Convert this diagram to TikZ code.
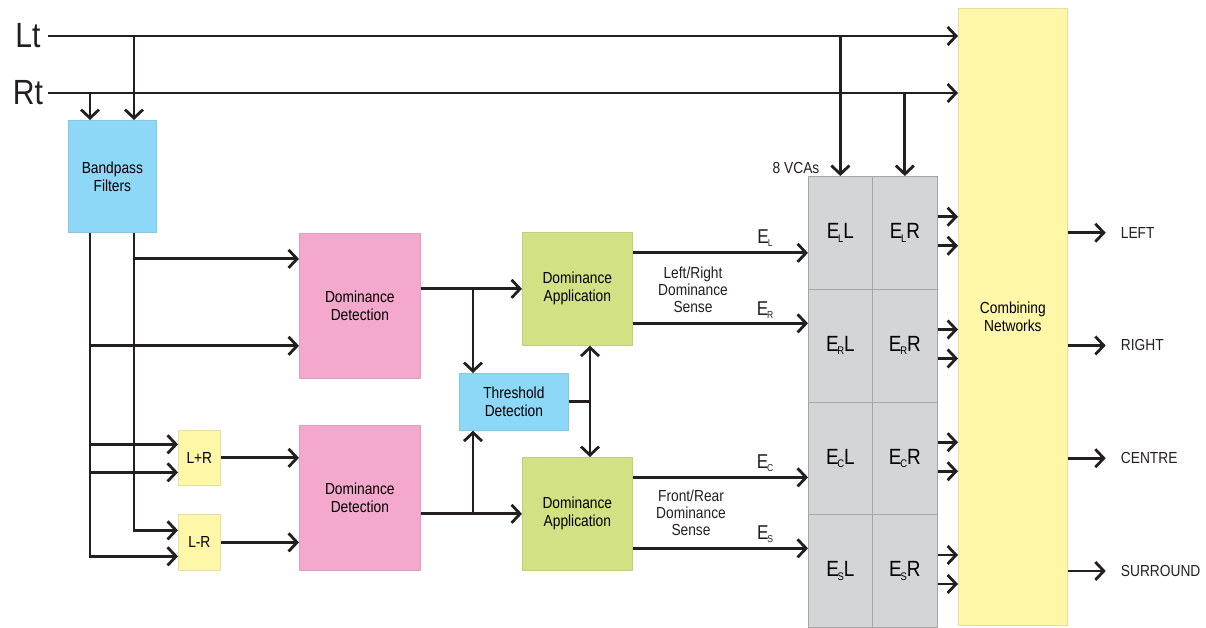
\documentclass[tikz,border=0pt]{standalone}
\usepackage{fontspec}
\usepackage{graphicx}
\setmainfont{Liberation Sans}[FakeStretch=0.86]
\usetikzlibrary{arrows.meta}

\definecolor{wire}{HTML}{231F20}
\definecolor{bpblue}{HTML}{8ED8F7}
\definecolor{ddpink}{HTML}{F4A9CC}
\definecolor{dagreen}{HTML}{D3E185}
\definecolor{sumyellow}{HTML}{FFF7A8}
\definecolor{vcagray}{HTML}{D4D5D7}

% E with a small letter hanging below it
\newcommand{\Esub}[1]{E\kern-0.06em\raisebox{-0.3ex}{\scalebox{0.5}{#1}}}

\tikzset{
    sig/.style={draw=wire, line width=2.8pt},
    arr/.style={sig, -{Straight Barb[length=8.5pt,width=18pt]}},
    block/.style={draw=#1!80!gray, fill=#1, line width=0.7pt, anchor=north west,
                  align=center, inner sep=0pt, font=\fontsize{16}{18}\selectfont},
    cell/.style={block=vcagray, draw=gray!70, font=\fontsize{22}{24}\selectfont},
    txt/.style={text=wire, align=center, inner sep=0pt, font=\fontsize{16}{17}\selectfont},
}

\begin{document}
\begin{tikzpicture}[x=1pt, y=-1pt]
    \useasboundingbox (0,0) rectangle (1206,627);
    \coordinate (busR)   at (90,0);% Rt tap into the filters
    \coordinate (busL)   at (134,0);% Lt tap into the filters
    \coordinate (split)  at (473,0);
    \coordinate (tsplit) at (590,0);

    % blocks
    \node[block=bpblue, minimum width=88pt, minimum height=112pt] (bpf) at (68,120) {Bandpass\\Filters};
    \node[block=ddpink, minimum width=121pt, minimum height=145pt] (ddTop) at (299,233) {Dominance\\Detection};
    \node[block=ddpink, minimum width=121pt, minimum height=145pt] (ddBot) at (299,425) {Dominance\\Detection};
    \node[block=sumyellow, minimum width=42pt, minimum height=55pt] (lpr) at (178,430) {L+R};
    \node[block=sumyellow, minimum width=42pt, minimum height=56pt] (lmr) at (178,514) {L-R};
    \node[block=bpblue, minimum width=109pt, minimum height=57pt] (tdet) at (459,373) {Threshold\\Detection};
    \node[block=dagreen, minimum width=110pt, minimum height=113pt] (daTop) at (522,232) {Dominance\\Application};
    \node[block=dagreen, minimum width=110pt, minimum height=113pt] (daBot) at (522,457) {Dominance\\Application};
    \node[block=sumyellow, minimum width=109pt, minimum height=617pt] (comb) at (958,8) {Combining\\Networks};

    % the eight VCAs
    \foreach \e [count=\i from 0] in {L,R,C,S}{
        \node[cell, minimum width=64pt, minimum height=112.75pt] (v\e L) at (808,{176+112.75*\i}) {\Esub{\e}L};
        \node[cell, minimum width=65pt, minimum height=112.75pt] (v\e R) at (872,{176+112.75*\i}) {\Esub{\e}R};
    }
    \node[txt] (vcas) at (796,168) {8 VCAs};

    % inputs
    \node[txt, font=\fontsize{35}{36}\selectfont] (Lt) at (28,36) {Lt};
    \node[txt, font=\fontsize{35}{36}\selectfont] (Rt) at (28,93) {Rt};
    \coordinate (LtIn) at (48,36);
    \coordinate (RtIn) at (48,93);
    \draw[arr] (LtIn) -- (LtIn -| comb.west);
    \draw[arr] (RtIn) -- (RtIn -| comb.west);
    \draw[arr] (busL |- LtIn) -- (busL |- bpf.north);
    \draw[arr] (busR |- RtIn) -- (busR |- bpf.north);
    \draw[arr] (vLL.north |- LtIn) -- (vLL.north);
    \draw[arr] (vLR.north |- RtIn) -- (vLR.north);

    % filter outputs
    \draw[arr] (busR |- bpf.south) |- ([yshift=-14pt]lmr.west);
    \draw[arr] (busL |- bpf.south) |- ([yshift=12pt]lmr.west);
    \draw[arr] ([yshift=47pt]ddTop.west -| busL) -- ([yshift=47pt]ddTop.west);
    \draw[arr] ([yshift=-40pt]ddTop.west -| busR) -- ([yshift=-40pt]ddTop.west);
    \draw[arr] ([yshift=13.5pt]lpr.west -| busR) -- ([yshift=13.5pt]lpr.west);
    \draw[arr] ([yshift=-14.5pt]lpr.west -| busR) -- ([yshift=-14.5pt]lpr.west);
    \draw[arr] (lpr.east) -- (lpr.east -| ddBot.west);
    \draw[arr] (lmr.east) -- (lmr.east -| ddBot.west);

    % detection -> application, threshold between
    \draw[arr] (daTop.west -| ddTop.east) -- (daTop.west);
    \draw[arr] (daBot.west -| ddBot.east) -- (daBot.west);
    \draw[arr] (split |- daTop.west) -- (split |- tdet.north);
    \draw[arr] (split |- daBot.west) -- (split |- tdet.south);
    \draw[sig] (tdet.east) -- (tdet.east -| tsplit);
    \draw[sig, {Straight Barb[length=8.5pt,width=18pt]}-{Straight Barb[length=8.5pt,width=18pt]}]
        (tsplit |- daTop.south) -- (tsplit |- daBot.north);

    % steering signals into the VCAs
    \draw[arr] ([yshift=36pt]daTop.east) -- ([yshift=36pt]daTop.east -| vLL.west);
    \draw[arr] ([yshift=-34.5pt]daTop.east) -- ([yshift=-34.5pt]daTop.east -| vLL.west);
    \draw[arr] ([yshift=36.5pt]daBot.east) -- ([yshift=36.5pt]daBot.east -| vLL.west);
    \draw[arr] ([yshift=-34.5pt]daBot.east) -- ([yshift=-34.5pt]daBot.east -| vLL.west);
    \node[txt, font=\fontsize{20}{21}\selectfont] (eL) at (765,238) {\Esub{L}};
    \node[txt, font=\fontsize{20}{21}\selectfont] (eR) at (765,310) {\Esub{R}};
    \node[txt, font=\fontsize{20}{21}\selectfont] (eC) at (765,463) {\Esub{C}};
    \node[txt, font=\fontsize{20}{21}\selectfont] (eS) at (765,534) {\Esub{S}};
    \node[txt] (lrs) at (693,290) {Left/Right\\Dominance\\Sense};
    \node[txt] (frs) at (691,513) {Front/Rear\\Dominance\\Sense};

    % VCAs -> combining networks -> outputs
    \foreach \e/\o in {L/LEFT,R/RIGHT,C/CENTRE,S/SURROUND}{
        \draw[arr] ([yshift=16pt]v\e R.east) -- ([yshift=16pt]v\e R.east -| comb.west);
        \draw[arr] ([yshift=-13pt]v\e R.east) -- ([yshift=-13pt]v\e R.east -| comb.west);
        \node[txt, anchor=west] (out\e) at ([xshift=53pt]v\e R.east -| comb.east) {\o};
        \draw[arr] (v\e R.east -| comb.east) -- ([xshift=-15pt]out\e.west);
    }
\end{tikzpicture}
\end{document}
